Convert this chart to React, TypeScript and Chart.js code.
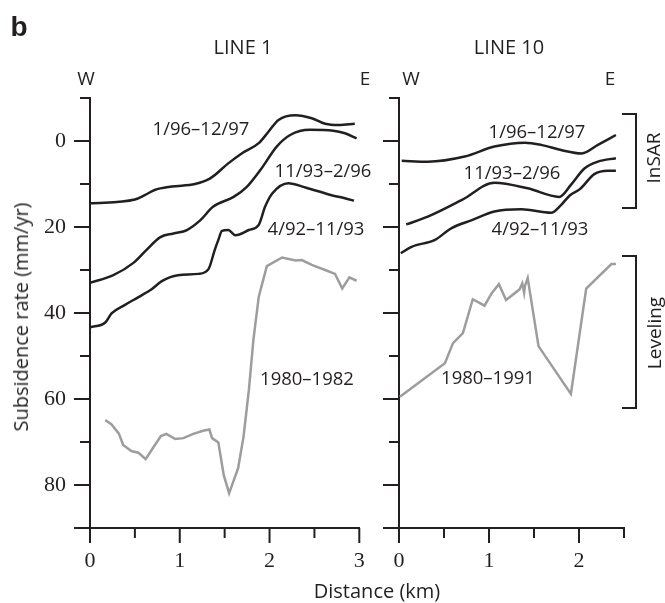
import React, { useEffect, useRef } from "react";
import { Chart, registerables } from "chart.js";
Chart.register(...registerables);

// ---------- DATA ----------
// LINE 1 (distance km, subsidence mm/yr)
const l1InsarA_x = [0, 0.5, 0.61, 0.72, 0.91, 1.17, 1.34, 1.54, 1.69, 1.88, 1.99, 2.1, 2.29, 2.47, 2.62, 2.77, 2.95];
const l1InsarA_y = [14.5, 13.6, 12.6, 11.4, 10.6, 10.0, 8.7, 5.2, 2.9, 0.5, -2.2, -4.9, -6.0, -5.3, -4.0, -3.7, -4.0];
const l1InsarB_x = [0, 0.26, 0.48, 0.63, 0.78, 0.93, 1.08, 1.23, 1.37, 1.6, 1.75, 1.9, 2.08, 2.23, 2.45, 2.71, 2.84, 2.97];
const l1InsarB_y = [33.0, 31.2, 28.4, 25.3, 22.4, 21.5, 20.7, 18.4, 15.3, 13.0, 10.6, 6.7, 1.3, -1.4, -2.6, -2.4, -1.8, -0.6];
const l1InsarC_x = [0, 0.17, 0.24, 0.39, 0.54, 0.69, 0.8, 0.98, 1.21, 1.32, 1.39, 1.43, 1.47, 1.54, 1.62, 1.77, 1.88, 1.95, 2.03, 2.21, 2.4, 2.69, 2.84, 2.94];
const l1InsarC_y = [43.3, 42.2, 40.1, 38.1, 36.3, 34.4, 32.6, 31.2, 30.9, 29.8, 25.3, 23.0, 20.9, 20.7, 21.9, 20.7, 19.5, 15.3, 12.2, 9.8, 10.8, 12.6, 13.3, 13.9];
const l1Level_x = [0.17, 0.24, 0.32, 0.37, 0.46, 0.54, 0.62, 0.71, 0.79, 0.85, 0.95, 1.04, 1.15, 1.26, 1.33, 1.36, 1.43, 1.49, 1.55, 1.65, 1.71, 1.77, 1.82, 1.88, 1.97, 2.14, 2.29, 2.36, 2.47, 2.62, 2.73, 2.81, 2.89, 2.97];
const l1Level_y = [64.9, 65.9, 68.0, 70.7, 72.1, 72.5, 74.0, 71.1, 68.6, 68.1, 69.3, 69.1, 68.1, 67.4, 67.1, 69.1, 70.1, 77.7, 81.9, 76.1, 68.8, 57.9, 46.3, 36.2, 29.1, 27.1, 27.8, 27.7, 28.8, 30.0, 30.9, 34.3, 31.7, 32.5];

// LINE 10
const l10InsarA_x = [0.03, 0.32, 0.73, 1.06, 1.4, 1.58, 1.8, 2.03, 2.21, 2.41];
const l10InsarA_y = [4.6, 4.8, 3.6, 1.3, 0.4, 0.9, 2.1, 2.9, 0.9, -1.4];
const l10InsarB_x = [0.08, 0.32, 0.7, 1.06, 1.43, 1.78, 1.91, 2.06, 2.21, 2.41];
const l10InsarB_y = [19.4, 17.6, 13.7, 9.7, 11.0, 13.0, 10.2, 6.4, 4.8, 4.0];
const l10InsarC_x = [0.02, 0.14, 0.4, 0.58, 0.81, 1.06, 1.36, 1.69, 1.8, 1.9, 2.01, 2.17, 2.32, 2.41];
const l10InsarC_y = [26.1, 24.6, 23.0, 20.3, 18.4, 16.4, 15.9, 16.7, 14.9, 12.6, 11.2, 7.7, 6.9, 6.9];
const l10Level_x = [0.01, 0.51, 0.6, 0.71, 0.82, 0.95, 1.03, 1.11, 1.19, 1.34, 1.37, 1.39, 1.4, 1.43, 1.55, 1.91, 2.08, 2.36, 2.41];
const l10Level_y = [59.5, 51.7, 47.0, 44.7, 36.8, 38.3, 35.4, 33.3, 37.0, 34.5, 33.1, 35.3, 33.7, 31.9, 47.7, 58.8, 34.3, 28.6, 28.6];

// axis ranges / ticks
const yMin = -10;
const yMax = 90;
const yStep = 10;
const yLabelEvery = 20;
const l1XMax = 3;
const l10XMax = 2.5;
const xStep = 0.5;

// ---------- STYLE ----------
const INK = "#231f20";
const GREY = "#9d9d9d";
const SANS = "'Open Sans', 'Noto Sans', sans-serif";
const SERIF = "'Liberation Serif', 'DejaVu Serif', serif";

const pts = (xs: number[], ys: number[]) => xs.map((x, i) => ({ x, y: ys[i] }));

const tickPlugin = {
  id: "customTicks",
  afterDraw(chart: any) {
    const ctx = chart.ctx;
    const xs = chart.scales.x;
    const ys = chart.scales.y;
    const area = chart.chartArea;
    ctx.save();
    ctx.strokeStyle = INK;
    ctx.lineWidth = 2;
    ctx.lineCap = "butt";
    for (let v = xs.min; v <= xs.max + 1e-9; v += xStep) {
      const px = xs.getPixelForValue(v);
      const major = Math.abs(v - Math.round(v)) < 1e-9;
      ctx.beginPath();
      ctx.moveTo(px, area.bottom);
      ctx.lineTo(px, area.bottom + (major ? 15 : 10));
      ctx.stroke();
    }
    for (let v = ys.min; v <= ys.max + 1e-9; v += yStep) {
      const py = ys.getPixelForValue(v);
      const major = (Math.round(v) % yLabelEvery === 0) || Math.abs(v - ys.max) < 1e-9;
      ctx.beginPath();
      ctx.moveTo(area.left, py);
      ctx.lineTo(area.left - (major ? 16 : 10), py);
      ctx.stroke();
    }
    ctx.restore();
  },
};

function makeConfig(
  series: { data: { x: number; y: number }[]; grey: boolean }[],
  xMax: number,
  yAxisWidth: number,
  rightPad: number,
  showYLabels: boolean
): any {
  return {
    type: "line",
    data: {
      datasets: series.map((s) => ({
        data: s.data,
        borderColor: s.grey ? GREY : INK,
        borderWidth: s.grey ? 2.5 : 2.5,
        pointRadius: 0,
        fill: false,
        tension: s.grey ? 0 : 0.4,
        cubicInterpolationMode: s.grey ? "default" : "monotone",
      })),
    },
    options: {
      responsive: false,
      animation: false,
      events: [],
      layout: { padding: { left: 0, top: 98, right: rightPad, bottom: 0 } },
      plugins: { legend: { display: false }, tooltip: { enabled: false } },
      scales: {
        x: {
          type: "linear",
          min: 0,
          max: xMax,
          afterFit: (s: any) => {
            s.height = 75;
          },
          grid: { display: false, drawTicks: false },
          border: { display: true, color: INK, width: 2 },
          ticks: {
            stepSize: xStep,
            autoSkip: false,
            maxRotation: 0,
            padding: 20,
            color: INK,
            font: { family: SERIF, size: 22 },
            callback: (v: any) => (Math.abs(v - Math.round(v)) < 1e-9 ? String(Math.round(v)) : ""),
          },
        },
        y: {
          type: "linear",
          min: yMin,
          max: yMax,
          reverse: true,
          afterFit: (s: any) => {
            s.width = yAxisWidth;
          },
          grid: { display: false, drawTicks: false },
          border: { display: true, color: INK, width: 2 },
          ticks: {
            stepSize: yStep,
            autoSkip: false,
            padding: 24,
            color: INK,
            display: showYLabels,
            font: { family: SERIF, size: 22 },
            callback: (v: any) => (showYLabels && Math.round(v) % yLabelEvery === 0 && v >= 0 ? String(v) : ""),
          },
        },
      },
    },
    plugins: [tickPlugin],
  };
}

const Label = ({ x, y, text, size = 18.5, rot = false, weight = 400, family = SANS }: any) => (
  <div
    style={{
      position: "absolute",
      left: x,
      top: y,
      transform: `translate(-50%, -50%)${rot ? " rotate(-90deg)" : ""}`,
      fontFamily: family,
      fontSize: size,
      fontWeight: weight,
      color: INK,
      whiteSpace: "nowrap",
      lineHeight: 1,
    }}
  >
    {text}
  </div>
);

export default function App() {
  const c1 = useRef<HTMLCanvasElement>(null);
  const c2 = useRef<HTMLCanvasElement>(null);

  useEffect(() => {
    const ch1 = new Chart(
      c1.current as HTMLCanvasElement,
      makeConfig(
        [
          { data: pts(l1InsarA_x, l1InsarA_y), grey: false },
          { data: pts(l1InsarB_x, l1InsarB_y), grey: false },
          { data: pts(l1InsarC_x, l1InsarC_y), grey: false },
          { data: pts(l1Level_x, l1Level_y), grey: true },
        ],
        l1XMax,
        90,
        665 - 359.3,
        true
      )
    );
    const ch2 = new Chart(
      c2.current as HTMLCanvasElement,
      makeConfig(
        [
          { data: pts(l10InsarA_x, l10InsarA_y), grey: false },
          { data: pts(l10InsarB_x, l10InsarB_y), grey: false },
          { data: pts(l10InsarC_x, l10InsarC_y), grey: false },
          { data: pts(l10Level_x, l10Level_y), grey: true },
        ],
        l10XMax,
        399,
        41,
        false
      )
    );
    return () => {
      ch1.destroy();
      ch2.destroy();
    };
  }, []);

  const canvasStyle: React.CSSProperties = { position: "absolute", left: 0, top: 0, display: "block" };
  const bracket = (top: number, bottom: number) => (
    <div
      style={{
        position: "absolute",
        left: 622,
        top: top - 1,
        width: 13,
        height: bottom - top,
        borderTop: `2px solid ${INK}`,
        borderBottom: `2px solid ${INK}`,
        borderRight: `2px solid ${INK}`,
      }}
    />
  );

  return (
    <div style={{ position: "absolute", left: 0, top: 0, width: 665, height: 603, background: "#fff", overflow: "hidden" }}>
      <canvas ref={c1} width={665} height={603} style={canvasStyle} />
      <canvas ref={c2} width={665} height={603} style={canvasStyle} />
      <Label x={19} y={27} text="b" size={28} weight={700} family="'Liberation Sans', Arial, sans-serif" />
      <Label x={243} y={47} text="LINE 1" size={20} />
      <Label x={509} y={47} text="LINE 10" size={20} />
      <Label x={86} y={78} text="W" size={19} />
      <Label x={365} y={78} text="E" size={19} />
      <Label x={411} y={78} text="W" size={19} />
      <Label x={610} y={78} text="E" size={19} />
      <Label x={201} y={128} text="1/96–12/97" />
      <Label x={323} y={170} text="11/93–2/96" />
      <Label x={316} y={228} text="4/92–11/93" />
      <Label x={307} y={378} text="1980–1982" />
      <Label x={537} y={131} text="1/96–12/97" />
      <Label x={512} y={172} text="11/93–2/96" />
      <Label x={540} y={228} text="4/92–11/93" />
      <Label x={488} y={377} text="1980–1991" />
      <Label x={21} y={317} text="Subsidence rate (mm/yr)" size={20} rot />
      <Label x={377} y={591} text="Distance (km)" size={20} />
      <Label x={653} y={158} text="InSAR" size={19} rot />
      <Label x={654} y={333} text="Leveling" size={19} rot />
      {bracket(114, 206)}
      {bracket(256, 406)}
    </div>
  );
}
